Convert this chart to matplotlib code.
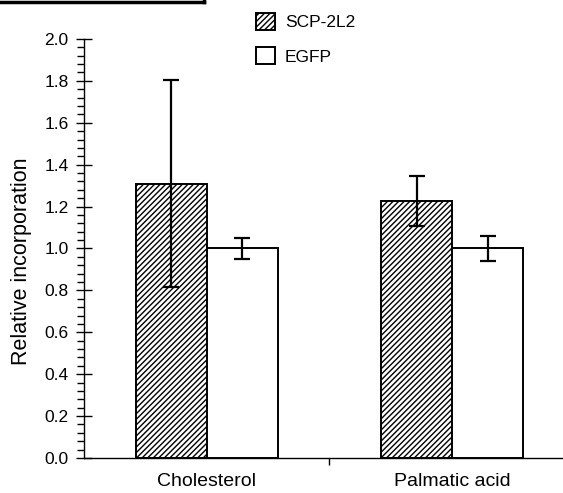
import matplotlib
matplotlib.use('Agg')
import matplotlib.pyplot as plt
from matplotlib.patches import Patch
from matplotlib.lines import Line2D
from matplotlib.ticker import MultipleLocator

plt.rcParams['font.family'] = ['Liberation Sans', 'DejaVu Sans']
plt.rcParams['hatch.linewidth'] = 1.0

# Data
categories = ['Cholesterol', 'Palmatic acid']
series = ['SCP-2L2', 'EGFP']
scp_values = [1.31, 1.225]
scp_errors = [0.495, 0.12]
egfp_values = [1.0, 1.0]
egfp_errors = [0.05, 0.06]

fig = plt.figure(figsize=(5.63, 4.93), dpi=100)
ax = fig.add_axes([0.149, 0.071, 0.87, 0.850])

x = list(range(len(categories)))
w = 0.289
err_kw = dict(ecolor='black', elinewidth=1.6, capsize=5.8, capthick=1.6)

ax.bar([i - w / 2 for i in x], scp_values, w, yerr=scp_errors, color='white',
       edgecolor='black', hatch='//////', linewidth=1.4, error_kw=err_kw, zorder=2)
ax.bar([i + w / 2 for i in x], egfp_values, w, yerr=egfp_errors, color='white',
       edgecolor='black', linewidth=1.4, error_kw=err_kw, zorder=2)

ax.set_xlim(-0.5, 1.495)
ax.set_ylim(0, 2.0)

# axes styling
for side in ['top', 'right']:
    ax.spines[side].set_visible(False)
for side in ['left', 'bottom']:
    ax.spines[side].set_linewidth(1.0)

ax.yaxis.set_major_locator(MultipleLocator(0.2))
ax.yaxis.set_minor_locator(MultipleLocator(0.04))
ax.set_yticklabels([f'{v:.1f}' for v in ax.get_yticks()])
ax.tick_params(axis='y', which='major', direction='inout', length=12, width=1.0,
               labelsize=12.5, pad=5)
ax.tick_params(axis='y', which='minor', direction='out', length=5, width=1.0)

ax.set_xticks(x)
ax.set_xticklabels(categories)
ax.set_xticks([0.5], minor=True)
ax.tick_params(axis='x', which='major', length=0, labelsize=14, pad=11)
ax.tick_params(axis='x', which='minor', direction='out', length=5, width=1.0)

ax.set_ylabel('Relative incorporation', fontsize=15.5)
ax.yaxis.set_label_coords(-0.106, 0.47)

# legend
handles = [Patch(facecolor='white', edgecolor='black', hatch='//////', linewidth=1.4),
           Patch(facecolor='white', edgecolor='black', linewidth=1.4)]
fig.legend(handles, series, loc='upper left', bbox_to_anchor=(0.443, 0.988),
           frameon=False, fontsize=12.5, handlelength=1.1, handleheight=1.1,
           handletextpad=0.55, labelspacing=1.0, borderaxespad=0.0)

# fragment of a frame at the top-left corner
fig.add_artist(Line2D([0.0, 0.362], [0.996, 0.996], color='black', lw=2.5,
                      transform=fig.transFigure))
fig.add_artist(Line2D([0.362, 0.362], [0.996, 1.0], color='black', lw=2.5,
                      transform=fig.transFigure))

fig.savefig('out.png', dpi=100)
